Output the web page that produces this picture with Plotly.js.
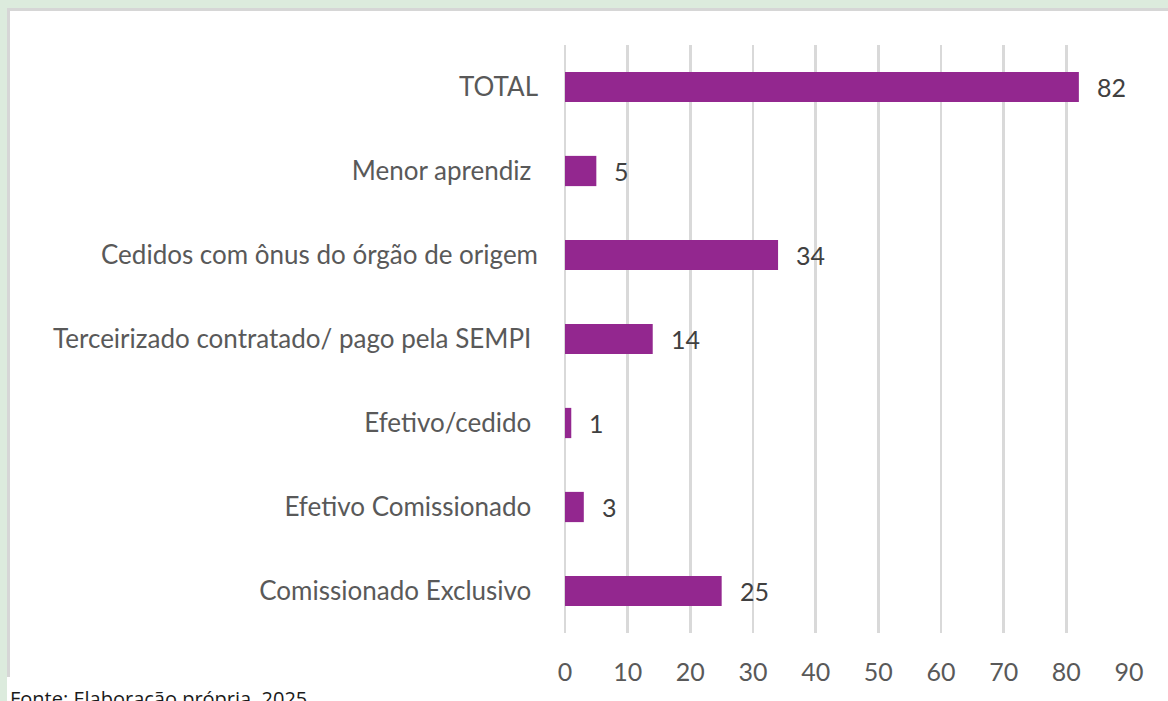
<!DOCTYPE html>
<html>
<head>
<meta charset="utf-8">
<script src="https://cdn.plot.ly/plotly-3.0.1.min.js"></script>
<style>
  html, body { margin: 0; padding: 0; width: 1168px; height: 701px; overflow: hidden; background: #ffffff; }
  #greenTop { position: absolute; left: 0; top: 0; width: 1168px; height: 8px; background: #dcebdd; }
  #greenLeft { position: absolute; left: 0; top: 0; width: 7px; height: 701px; background: #dcebdd; }
  #frame { position: absolute; left: 7px; top: 8px; width: 1161px; height: 669px; border-top: 3px solid #d6d6d6; border-left: 3px solid #d6d6d6; box-sizing: border-box; background: #ffffff; }
  #chart { position: absolute; left: 0; top: 0; width: 1168px; height: 701px; }
</style>
</head>
<body>
<div id="greenTop"></div>
<div id="greenLeft"></div>
<div id="frame"></div>
<div id="chart"></div>
<script>
// Categories listed bottom to top
const categories = [
  "Comissionado Exclusivo\u00A0",
  "Efetivo Comissionado\u00A0",
  "Efetivo/cedido\u00A0",
  "Terceirizado contratado/ pago pela SEMPI\u00A0",
  "Cedidos com ônus do órgão de origem",
  "Menor aprendiz\u00A0",
  "TOTAL"
];
const values = [25, 3, 1, 14, 34, 5, 82];
const xTickValues = [0, 10, 20, 30, 40, 50, 60, 70, 80, 90];
const sourceNote = "Fonte: Elaboração própria, 2025";

const barColor = "#93278f";
const labelFont = "Lato, 'Open Sans', sans-serif";

const trace = {
  type: "bar",
  orientation: "h",
  x: values,
  y: categories,
  marker: { color: barColor },
  hoverinfo: "skip"
};

const valueAnnotations = values.map((v, i) => ({
  x: v, y: categories[i], xref: "x", yref: "y",
  text: String(v), showarrow: false,
  xanchor: "left", xshift: 16,
  font: { family: labelFont, size: 25, color: "#404040" }
}));

const layout = {
  width: 1168, height: 701,
  paper_bgcolor: "rgba(0,0,0,0)",
  plot_bgcolor: "rgba(0,0,0,0)",
  margin: { l: 565, r: 39, t: 45, b: 68 },
  bargap: 0.64,
  showlegend: false,
  xaxis: {
    range: [0, 90],
    tickvals: xTickValues,
    showgrid: true,
    gridcolor: "#d9d9d9",
    gridwidth: 2.5,
    zeroline: true,
    zerolinecolor: "#d9d9d9",
    zerolinewidth: 2.5,
    showline: false,
    ticks: "",
    ticklabelstandoff: 22,
    tickfont: { family: labelFont, size: 25, color: "#595959" },
    fixedrange: true
  },
  yaxis: {
    type: "category",
    showgrid: false,
    zeroline: false,
    showline: false,
    ticks: "",
    ticklabelstandoff: 26,
    tickfont: { family: labelFont, size: 26, color: "#595959" },
    fixedrange: true
  },
  annotations: valueAnnotations.concat([{
    xref: "paper", yref: "paper",
    x: (8 - 565) / 564, y: (633 - 698) / 588,
    xanchor: "left", yanchor: "middle",
    text: sourceNote, showarrow: false,
    font: { family: "'Open Sans', sans-serif", size: 20, color: "#1a1a1a" }
  }])
};

Plotly.newPlot("chart", [trace], layout, { displayModeBar: false, staticPlot: true });
</script>
</body>
</html>
